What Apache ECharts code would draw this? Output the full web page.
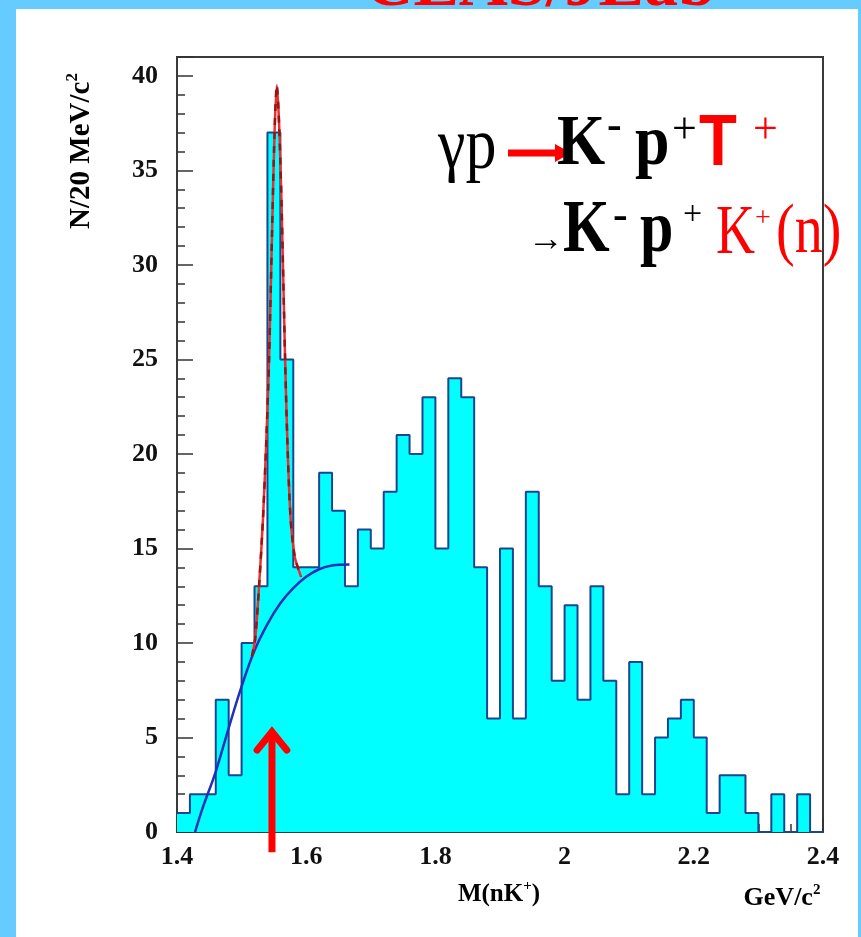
<!DOCTYPE html>
<html><head><meta charset="utf-8">
<script src="https://cdn.jsdelivr.net/npm/echarts@6/dist/echarts.min.js"></script>
<style>html,body{margin:0;padding:0;background:#fff}#c{width:861px;height:937px}</style>
</head><body><div id="c"></div>
<script>
// ---- data ----
const binLow = [1.40,1.42,1.44,1.46,1.48,1.50,1.52,1.54,1.56,1.58,
                1.60,1.62,1.64,1.66,1.68,1.70,1.72,1.74,1.76,1.78,
                1.80,1.82,1.84,1.86,1.88,1.90,1.92,1.94,1.96,1.98,
                2.00,2.02,2.04,2.06,2.08,2.10,2.12,2.14,2.16,2.18,
                2.20,2.22,2.24,2.26,2.28,2.30,2.32,2.34,2.36,2.38];
const counts = [1,2,2,7,3,10,13,37,25,14,
                14,19,17,13,16,15,18,21,20,23,
                15,24,23,14,6,15,6,18,13,8,
                12,7,13,8,2,9,2,5,6,7,
                5,1,3,3,1,0,2,0,2,0];
const histEnd = 2.40;
const bgMass = [1.428,1.44,1.46,1.48,1.50,1.52,1.54,1.56,1.58,1.60,1.62,1.64,1.667];
const bgFit  = [0,1.3,3.2,5.5,7.7,9.6,11.0,12.1,12.9,13.5,13.9,14.1,14.15];
const fitMass   = [1.516,1.521,1.527,1.533,1.538,1.5425,1.547,1.551,1.5545,1.558,1.562,1.567,1.571,1.576,1.582,1.587,1.592];
const fitValues = [9.3,10.2,13.0,16.5,20.5,25.0,31.5,37.0,39.5,37.5,33.0,25.5,20.5,16.5,14.6,14.0,13.5];
const arrowMass = 1.547;
const arrowShaft = [-1.07, 5.3];
const arrowWingMass = [1.524, 1.570];
const arrowWingLevel = 4.33;
const xTickLabels = ['1.4','1.6','1.8','2','2.2','2.4'];
const yTickLabels = ['0','5','10','15','20','25','30','35','40'];

// ---- build series data ----
const histData = binLow.map((x, i) => [x, counts[i]]);
histData.push([histEnd, counts[counts.length - 1]]);
const bgData = bgMass.map((x, i) => [x, bgFit[i]]);
const fitData = fitMass.map((x, i) => [x, fitValues[i]]);
const shaftData = arrowShaft.map(v => [arrowMass, v]);
const headData = [[arrowWingMass[0], arrowWingLevel], [arrowMass, arrowShaft[1]], [arrowWingMass[1], arrowWingLevel]];

const SERIF = '"Liberation Serif", "Times New Roman", serif';
const SANS = '"Liberation Sans", Arial, sans-serif';

function txt(x, y, text, size, opts) {
  opts = opts || {};
  return {
    type: 'text', x: x, y: y, z: 100,
    scaleX: opts.sx || 1, scaleY: opts.sy || 1,
    rotation: opts.rot || 0,
    style: {
      x: 0, y: 0, text: text,
      fill: opts.color || '#000',
      font: (opts.weight || 'normal') + ' ' + size + 'px ' + (opts.family || SERIF),
      align: opts.align || 'left', verticalAlign: 'middle',
      rich: opts.rich
    }
  };
}

const chart = echarts.init(document.getElementById('c'), null, {renderer: 'canvas'});
const axisLabelStyle = {fontFamily: SERIF, fontWeight: 'bold', fontSize: 26, color: '#111'};
const option = {
  animation: false,
  backgroundColor: '#fff',
  grid: {left: 177, right: 38, top: 57, bottom: 105, show: true, borderColor: '#3a3a3a', borderWidth: 2, backgroundColor: 'transparent'},
  xAxis: {
    type: 'value', min: 1.4, max: 2.4, interval: 0.2,
    axisLine: {show: true, onZero: false, lineStyle: {color: '#3a3a3a', width: 2}},
    axisTick: {show: true, inside: true, length: 15, lineStyle: {color: '#333', width: 1.5}},
    minorTick: {show: true, splitNumber: 4, length: 8, lineStyle: {color: '#333', width: 1.5}},
    splitLine: {show: false},
    axisLabel: Object.assign({margin: 12, formatter: v => {
      const i = Math.round((v - 1.4) / 0.2); return xTickLabels[i] !== undefined ? xTickLabels[i] : ''; }}, axisLabelStyle)
  },
  yAxis: {
    type: 'value', min: 0, max: 41, interval: 5,
    axisLine: {show: true, lineStyle: {color: '#3a3a3a', width: 2}},
    axisTick: {show: true, inside: true, length: 16, lineStyle: {color: '#333', width: 1.5}},
    minorTick: {show: true, splitNumber: 5, length: 8, lineStyle: {color: '#333', width: 1.5}},
    splitLine: {show: false},
    axisLabel: Object.assign({margin: 19, showMaxLabel: false, formatter: v => {
      const i = Math.round(v / 5); return (v % 5 === 0 && yTickLabels[i] !== undefined) ? yTickLabels[i] : ''; }}, axisLabelStyle)
  },
  series: [
    {type: 'line', step: 'end', data: histData, symbol: 'none', z: 2,
     lineStyle: {color: '#1b468f', width: 2}, areaStyle: {color: '#00ffff', opacity: 1}},
    {type: 'line', data: bgData, smooth: 0.4, symbol: 'none', z: 4,
     lineStyle: {color: '#2030b8', width: 2.5}},
    {type: 'line', data: fitData, smooth: 0.3, symbol: 'none', z: 5,
     lineStyle: {color: '#e83030', width: 2.5}},
    {type: 'line', data: fitData, smooth: 0.3, symbol: 'none', z: 6,
     lineStyle: {color: '#9a1414', width: 2.5, type: [7, 7]}},
    {type: 'line', data: shaftData, symbol: 'none', z: 10, clip: false,
     lineStyle: {color: '#ff0000', width: 7, cap: 'butt'}},
    {type: 'line', data: headData, symbol: 'none', z: 10, clip: false,
     lineStyle: {color: '#ff0000', width: 7, cap: 'round', join: 'miter'}}
  ],
  graphic: [
    {type: 'rect', z: 1, shape: {x: 0, y: 0, width: 16, height: 937}, style: {fill: '#66ccff'}},
    {type: 'rect', z: 1, shape: {x: 0, y: 0, width: 861, height: 9}, style: {fill: '#66ccff'}},
    {type: 'rect', z: 1, shape: {x: 858, y: 0, width: 3, height: 937}, style: {fill: '#66ccff'}},
    txt(540, -13, 'CLAS/JLab', 68, {weight: 'bold', color: '#ff0000', align: 'center'}),
    // axis titles
    txt(80, 151, '{m|N/20 MeV/c}{s|2}', 29, {rot: Math.PI / 2, align: 'center', weight: 'bold',
      rich: {m: {fontSize: 29, fontWeight: 'bold', fontFamily: SERIF, verticalAlign: 'bottom', lineHeight: 32},
             s: {fontSize: 17, fontWeight: 'bold', fontFamily: SERIF, verticalAlign: 'top', lineHeight: 32}}}),
    txt(499, 893, '{m|M(nK}{s|+}{m|)}', 25, {align: 'center', weight: 'bold',
      rich: {m: {fontSize: 25, fontWeight: 'bold', fontFamily: SERIF, verticalAlign: 'bottom', lineHeight: 28},
             s: {fontSize: 15, fontWeight: 'bold', fontFamily: SERIF, verticalAlign: 'top', lineHeight: 28}}}),
    txt(782, 897, '{m|GeV/c}{s|2}', 26, {align: 'center', weight: 'bold',
      rich: {m: {fontSize: 26, fontWeight: 'bold', fontFamily: SERIF, verticalAlign: 'bottom', lineHeight: 29},
             s: {fontSize: 15, fontWeight: 'bold', fontFamily: SERIF, verticalAlign: 'top', lineHeight: 29}}}),
    // reaction line 1
    txt(438, 149, 'γp', 62, {sy: 1.15}),
    {type: 'polyline', z: 100, shape: {points: [[508, 153], [560, 153]]}, style: {stroke: '#ff0000', lineWidth: 7}},
    {type: 'polygon', z: 100, shape: {points: [[555, 144], [571, 153], [555, 162]]}, style: {fill: '#ff0000'}},
    txt(557, 146, 'K', 62, {weight: 'bold', sy: 1.15}),
    txt(607, 128, '-', 44, {weight: 'bold'}),
    txt(635, 146, 'p', 62, {weight: 'bold', sy: 1.15}),
    txt(672, 131, '+', 44),
    txt(699, 145, 'T', 62, {weight: 'bold', family: SANS, color: '#ff0000', sy: 1.18}),
    txt(753, 131, '+', 44, {color: '#ff0000'}),
    // reaction line 2
    txt(528, 241, '→', 36),
    txt(563, 232, 'K', 60, {weight: 'bold', sy: 1.25}),
    txt(613, 218, '-', 44, {weight: 'bold'}),
    txt(640, 232, 'p', 60, {weight: 'bold', sy: 1.25}),
    txt(683, 215, '+', 34),
    txt(716, 235, 'K', 54, {color: '#ff0000', sy: 1.3}),
    txt(755, 219, '+', 28, {color: '#ff0000'}),
    txt(776, 234, '(n)', 56, {color: '#ff0000', sy: 1.25})
  ]
};
chart.setOption(option);
</script>
</body></html>
